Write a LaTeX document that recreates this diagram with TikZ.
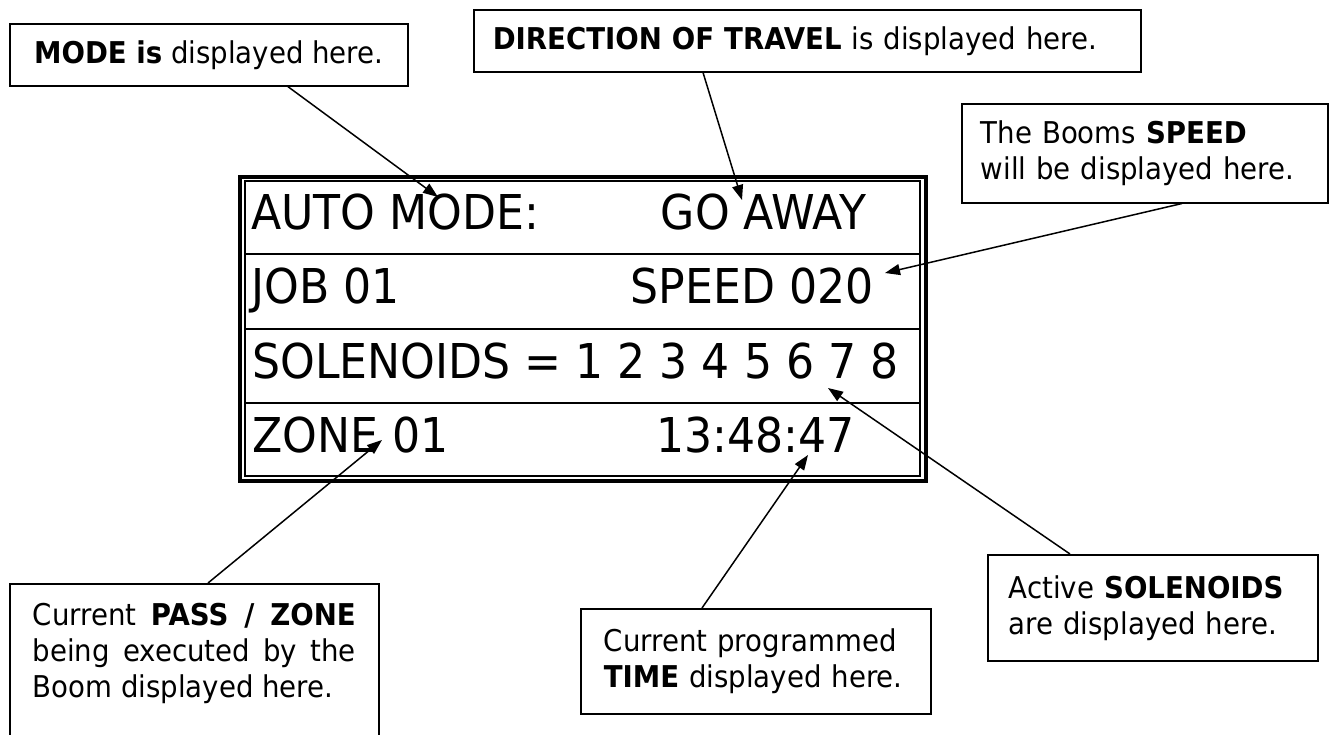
\documentclass[tikz,border=0pt]{standalone}
\usepackage{fontspec}
\setmainfont{DejaVu Sans}[FakeStretch=0.92]
\usetikzlibrary{arrows.meta}

\begin{document}
\begin{tikzpicture}
    [x=0.5pt, y=-0.5pt,
    callout/.style={draw, line width=0.75pt, anchor=north west, font=\fontsize{15}{18}\selectfont},
    pointer/.style={line width=0.75pt, -{Triangle[length=7.5pt, width=5.5pt]}},
    lcd/.style={inner sep=0pt, font=\fontsize{24}{28}\selectfont}]
    \useasboundingbox (0,0) rectangle (1332,734);

    % display panel
    \draw[line width=1.8pt] (240,177) rectangle (926,481);
    \draw[line width=0.75pt] (245,181) rectangle (920,476);
    \foreach \y in {254,329,403}
        \draw[line width=0.9pt] (245,\y) -- (920,\y);

    \node[lcd, anchor=base west] (rowMode) at (251,229) {AUTO MODE:};
    \node[lcd, anchor=base east] (rowTravel) at (867,229) {GO AWAY};
    \node[lcd, anchor=base west] (rowJob) at (251,303) {JOB 01};
    \node[lcd, anchor=base east] (rowSpeed) at (874,303) {SPEED 020};
    \node[lcd, anchor=base west] (rowSol) at (252,378) {SOLENOIDS = 1 2 3 4 5 6 7 8};
    \node[lcd, anchor=base west] (rowZone) at (252,452) {ZONE 01};
    \node[lcd, anchor=base east] (rowTime) at (855,452) {13:48:47};

    % callouts
    \node[callout, minimum width=199pt, minimum height=31pt] (modeBox) at (9,23) {\textbf{MODE is} displayed here.};
    \node[callout, text width=314.5pt, inner xsep=9.5pt, minimum height=31pt, align=left] (travelBox) at (473,9) {\textbf{DIRECTION OF TRAVEL} is displayed here.};
    \node[callout, text width=164pt, inner xsep=9.5pt, minimum height=49.5pt, align=left] (speedBox) at (961,103) {The Booms \textbf{SPEED}\\will be displayed here.};
    \node[callout, text width=144pt, inner xsep=10.5pt, minimum height=53pt, align=left] (solBox) at (987,554) {Active \textbf{SOLENOIDS}\\are displayed here.};
    \node[callout, text width=152pt, inner xsep=11.5pt, minimum height=52.5pt, align=left] (timeBox) at (580,608) {Current programmed\\\textbf{TIME} displayed here.};
    \node[callout, text width=161.5pt, inner xsep=11.5pt, inner ysep=9.5pt, text depth=70pt, align=justify] (passBox) at (9,583) {Current \textbf{PASS / ZONE}\linebreak being executed by the\linebreak Boom displayed here.};

    \coordinate (modeTip) at (438,197);
    \coordinate (travelTip) at (742,200);
    \coordinate (speedTip) at (885,273);
    \coordinate (solTip) at (828,388);
    \coordinate (timeTip) at (808,455);
    \coordinate (passTip) at (382,440);

    \draw[pointer] ([xshift=39.5pt]modeBox.south) -- (modeTip);
    \draw[pointer] ([xshift=115pt]travelBox.south west) -- (travelTip);
    \draw[pointer] ([xshift=110.5pt]speedBox.south west) -- (speedTip);
    \draw[pointer] ([xshift=41.5pt]solBox.north west) -- (solTip);
    \draw[pointer] ([xshift=61pt]timeBox.north west) -- (timeTip);
    \draw[pointer] ([xshift=99.5pt]passBox.north west) -- (passTip);

\end{tikzpicture}
\end{document}
